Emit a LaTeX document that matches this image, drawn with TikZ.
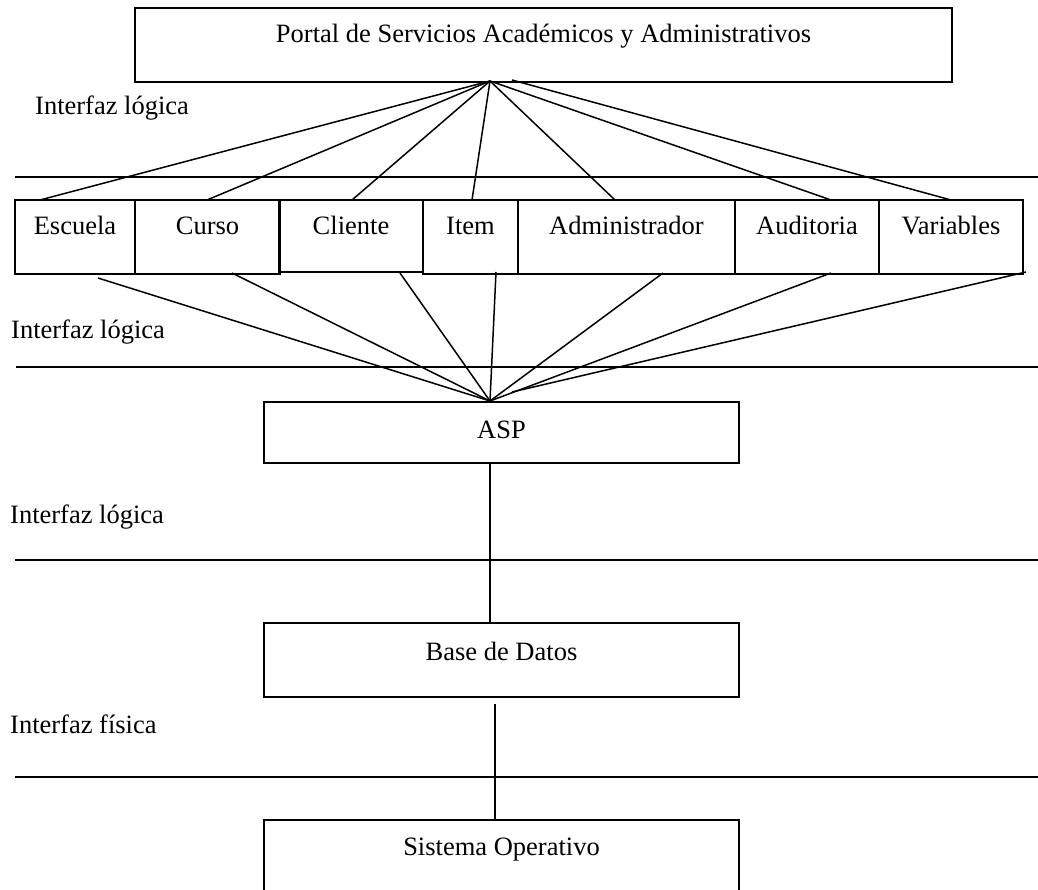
\documentclass[tikz,border=0pt]{standalone}
\usepackage{fontspec}
\setmainfont{Liberation Serif}
\begin{document}
\begin{tikzpicture}[x=1pt,y=-1pt,
  every node/.style={font=\fontsize{26.5}{32}\selectfont},
  box/.style={draw, line width=1.6pt, inner sep=0pt, outer sep=0pt, anchor=north, align=center},
  modbox/.style={box, text height=35pt, text depth=39pt},
  lbl/.style={anchor=base west, inner sep=0pt},
  conn/.style={line width=1.5pt},
  rule/.style={line width=1.6pt}]
\useasboundingbox (0,0) rectangle (1038,890);
\clip (0,0) rectangle (1038,890);
% top portal
\node[box, minimum width=817pt, text height=35pt, text depth=39pt] (portal) at (543.5,8) {Portal de Servicios Académicos y Administrativos};
% labels
\node[lbl] (l1) at (35,115) {Interfaz lógica};
\node[lbl] (l2) at (11,338) {Interfaz lógica};
\node[lbl] (l3) at (10,523) {Interfaz lógica};
\node[lbl] (l4) at (10,733) {Interfaz física};
% horizontal rules
\draw[rule] (15,177) -- (1038,177);
\draw[rule] (16,367) -- (1038,367);
\draw[rule] (15,560) -- (1038,560);
\draw[rule] (15,777) -- (1038,777);
% module boxes
\node[modbox, minimum width=120pt] (escuela) at (75,200) {Escuela};
\node[modbox, minimum width=145pt] (curso) at (207.5,200) {Curso};
\node[box, minimum width=144pt, text height=35pt, text depth=37pt] (cliente) at (351,200) {Cliente};
\node[modbox, minimum width=95pt] (item) at (470.5,200) {Item};
\node[modbox, minimum width=217pt] (admin) at (626.5,200) {Administrador};
\node[modbox, minimum width=144pt] (audit) at (807,200) {Auditoria};
\node[modbox, minimum width=144pt] (vars) at (951,200) {Variables};
% lower boxes
\node[box, minimum width=475pt, text height=36pt, text depth=25pt] (asp) at (501.5,402) {ASP};
\node[box, minimum width=475pt, text height=37pt, text depth=37pt] (bd) at (501.5,623) {Base de Datos};
\node[box, minimum width=475pt, text height=35pt, text depth=55pt] (so) at (501.5,820) {Sistema Operativo};
% connector points
\coordinate (apex) at (490,81);
\coordinate (apexb) at (512,80);
\coordinate (eT) at (40,200);
\coordinate (cT) at (207,200);
\coordinate (clT) at (352,200);
\coordinate (iT) at (472,200);
\coordinate (aT) at (615,200);
\coordinate (auT) at (831,200);
\coordinate (vT) at (951,200);
\coordinate (eB) at (98,278);
\coordinate (cB) at (232,273);
\coordinate (clB) at (400,273);
\coordinate (iB) at (496,272);
\coordinate (aB) at (663,273);
\coordinate (auB) at (831,273);
\coordinate (vB) at (1026,272);
\coordinate (aspT) at (490,401);
\coordinate (aspTb) at (512,392);
\coordinate (aspB) at (490,463);
\coordinate (bdT) at (490,623);
\coordinate (bdB) at (495,704);
\coordinate (soT) at (495,820);
% upper fan
\foreach \p in {eT,cT,clT,iT,aT,auT} \draw[conn] (apex) -- (\p);
\draw[conn] (apexb) -- (vT);
% lower fan
\foreach \p in {eB,cB,clB,iB,aB,auB} \draw[conn] (\p) -- (aspT);
\draw[conn] (vB) -- (aspTb);
% vertical links
\draw[conn] (aspB) -- (bdT);
\draw[conn] (bdB) -- (soT);
\end{tikzpicture}
\end{document}
